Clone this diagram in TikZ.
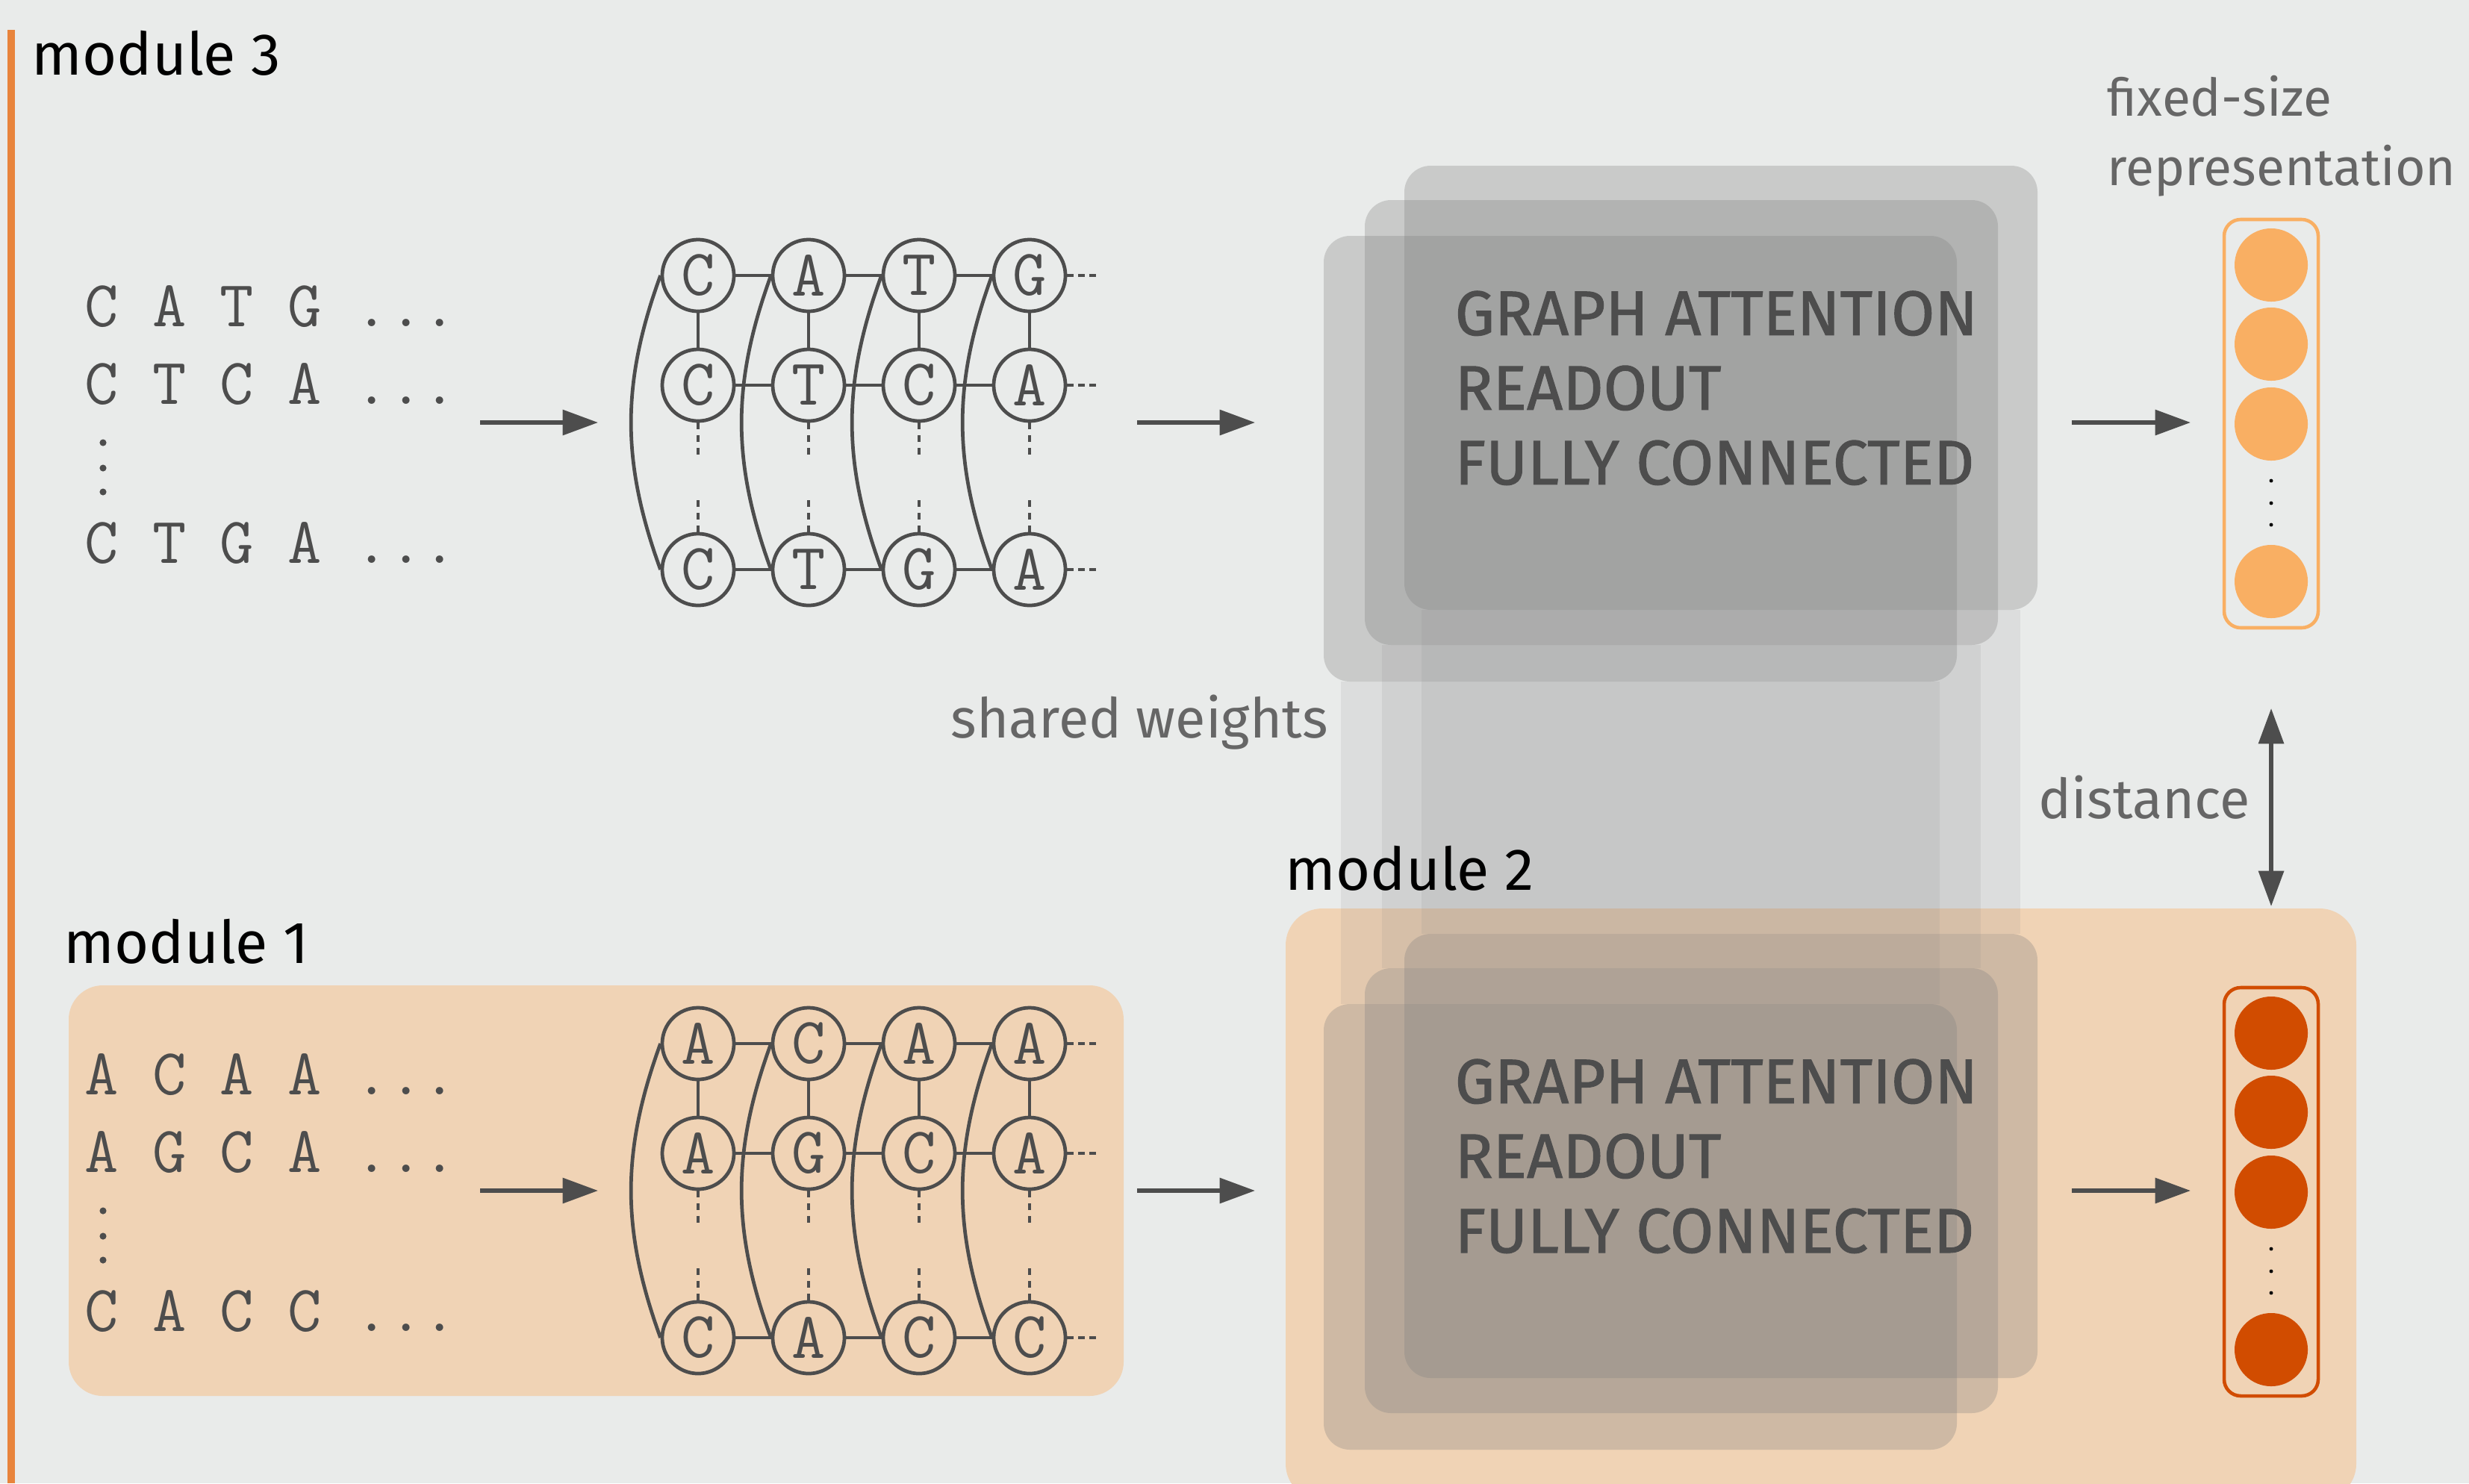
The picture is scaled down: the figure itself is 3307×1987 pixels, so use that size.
\documentclass[tikz,border=0pt]{standalone}
\usepackage{fontspec}
\usepackage{tikz}
\usetikzlibrary{arrows.meta}
\newfontfamily\lightsans{Fira Sans}
\newfontfamily\medsans{Fira Sans}[FakeBold=1.2]
\definecolor{paper}{HTML}{E9EBEA}
\definecolor{ink}{HTML}{4D4D4D}
\definecolor{bar}{HTML}{E8843C}
\definecolor{peach}{HTML}{F0D3B5}
\definecolor{labelgrey}{HTML}{666666}
\definecolor{vlight}{HTML}{F9AF63}
\definecolor{vdark}{HTML}{D14C00}
\tikzset{seq/.style={font=\ttfamily\fontsize{25}{30}\selectfont, text=ink,
   inner sep=0pt, anchor=base west},
 nuc/.style={circle, draw=ink, line width=1.35pt, minimum size=0.96cm,
   inner sep=0pt, font=\ttfamily\fontsize{25}{30}\selectfont, text=ink},
 link/.style={draw=ink, line width=1.35pt},
 gap/.style={link, dash pattern=on 2.5pt off 2.3pt},
 trail/.style={link, dash pattern=on 2.5pt off 1.7pt},
 flow/.style={draw=ink, line width=1.5pt, -{Triangle[length=13.5pt,width=9.5pt]}},
 gnnbox/.style={fill=gray, fill opacity=0.3, rounded corners=10pt},
 sharestrip/.style={fill=gray, fill opacity=0.12},
 tag/.style={font=\lightsans\fontsize{22.5}{27}\selectfont, text=black,
   inner sep=0pt, anchor=base west},
 note/.style={font=\lightsans\fontsize{21}{26.5}\selectfont, text=labelgrey,
   inner sep=0pt, anchor=base west, align=left},
 gnn/.style={font=\medsans\fontsize{24}{28.45}\selectfont, text=ink,
   inner sep=0pt, anchor=north west, align=left},
 cell/.style={circle, minimum size=0.98cm, inner sep=0pt},
 vecbox/.style={rounded corners=6.3pt, line width=1.3pt},
 }
% graph of one sequence set: prefix, rows 1, 2 and last
\newcommand{\seqgraph}[4]{%
  \foreach \l [count=\c] in {#2}
    \node[nuc] (#1a\c) at ({935+148*(\c-1)},-369) {\l};
  \foreach \l [count=\c] in {#3}
    \node[nuc] (#1b\c) at ({935+148*(\c-1)},-516) {\l};
  \foreach \l [count=\c] in {#4}
    \node[nuc] (#1c\c) at ({935+148*(\c-1)},-763) {\l};
  \foreach \c/\n in {1/2,2/3,3/4} {
    \draw[link] (#1a\c) -- (#1a\n);
    \draw[link] (#1b\c) -- (#1b\n);
    \draw[link] (#1c\c) -- (#1c\n);
  }
  \foreach \c in {1,...,4} {
    \draw[link] (#1a\c) -- (#1b\c);
    \draw[gap] (#1b\c.south) -- ++(0,-44);
    \draw[gap] (#1c\c.north) -- ++(0,44);
    \draw[link] (#1a\c.west) to[bend right=20] (#1c\c.west);
  }
  \foreach \r in {a,b,c}
    \draw[trail] (#1\r4.east) -- ++(40,0);
}

\begin{document}
\begin{tikzpicture}[x=0.01cm, y=0.01cm]
        \clip (0,0) rectangle (3307,-1987);
        \fill[paper] (0,0) rectangle (3307,-1987);
        \fill[bar] (10,-40) rectangle (20,-1987);

        % module backgrounds
        \fill[peach, rounded corners=13pt] (92,-1320) rectangle (1505,-1870);
        \fill[peach, rounded corners=14pt] (1722,-1217) rectangle (3156,-2010);

        % shared weights
        \fill[sharestrip] (1904,-817) rectangle (2706,-1251);
        \fill[sharestrip] (1851,-864) rectangle (2653,-1297);
        \fill[sharestrip] (1796,-913) rectangle (2598,-1345);
        \foreach \dy in {0,-1029} {
          \fill[gnnbox] (1881,{-222+\dy}) rectangle (2729,{-817+\dy});
          \fill[gnnbox] (1828,{-268+\dy}) rectangle (2676,{-864+\dy});
          \fill[gnnbox] (1773,{-316+\dy}) rectangle (2621,{-913+\dy});
        }
        \node[gnn] (gnn3) at (1948,-389) {GRAPH ATTENTION\\READOUT\\FULLY CONNECTED};
        \node[gnn] (gnn2) at (1948,-1418) {GRAPH ATTENTION\\READOUT\\FULLY CONNECTED};

        \node[tag] (mod3) at (42,-100) {module 3};
        \node[tag] (mod1) at (85,-1290) {module 1};
        \node[tag] (mod2) at (1721,-1192) {module 2};
        \node[note] (shared) at (1273,-988) {shared weights};
        \node[note] (dist) at (2730,-1096) {distance};
        \node[note, anchor=north west, font=\lightsans\fontsize{19.8}{26.5}\selectfont]
          (fixed) at (2822,-100) {fixed-size\\representation};

        % module 3
        \node[seq] (s3a) at (113,-437) {C A T G ...};
        \node[seq] (s3b) at (113,-541) {C T C A ...};
        \node[seq] (s3c) at (113,-754) {C T G A ...};
        \foreach \y in {-593,-627,-659} \fill[ink] (138,\y) circle (1.3pt);
        \seqgraph{g3}{C,A,T,G}{C,T,C,A}{C,T,G,A}
        \coordinate (m3a) at (643,-566);
        \coordinate (m3b) at (801,-566);
        \coordinate (m3c) at (1523,-566);
        \coordinate (m3d) at (1681,-566);
        \coordinate (m3e) at (2775,-566);
        \coordinate (m3f) at (2934,-566);
        \draw[flow] (m3a) -- (m3b);
        \draw[flow] (m3c) -- (m3d);
        \draw[flow] (m3e) -- (m3f);
        \draw[vecbox, draw=vlight] (2979,-294) rectangle (3105,-841);
        \foreach \y [count=\i] in {-355,-461,-568,-779}
          \node[cell, fill=vlight] (u\i) at (3042,\y) {};
        \foreach \y in {-644,-674,-703} \fill (3042,\y) circle (0.7pt);

        % distance
        \coordinate (dtop) at (3042,-949);
        \coordinate (dbot) at (3042,-1214);
        \draw[flow, {Triangle[length=13.5pt,width=9.5pt]}-{Triangle[length=13.5pt,width=9.5pt]}] (dtop) -- (dbot);

        % module 1 and 2
        \begin{scope}[shift={(0,-1029)}]
          \node[seq] (s1a) at (113,-437) {A C A A ...};
          \node[seq] (s1b) at (113,-541) {A G C A ...};
          \node[seq] (s1c) at (113,-754) {C A C C ...};
          \foreach \y in {-593,-627,-659} \fill[ink] (138,\y) circle (1.3pt);
          \seqgraph{g1}{A,C,A,A}{A,G,C,A}{C,A,C,C}
          \coordinate (m1a) at (643,-566);
          \coordinate (m1b) at (801,-566);
          \coordinate (m1c) at (1523,-566);
          \coordinate (m1d) at (1681,-566);
          \coordinate (m1e) at (2775,-566);
          \coordinate (m1f) at (2934,-566);
          \draw[flow] (m1a) -- (m1b);
          \draw[flow] (m1c) -- (m1d);
          \draw[flow] (m1e) -- (m1f);
          \draw[vecbox, draw=vdark] (2979,-294) rectangle (3105,-841);
          \foreach \y [count=\i] in {-355,-461,-568,-779}
            \node[cell, fill=vdark] (w\i) at (3042,\y) {};
          \foreach \y in {-644,-674,-703} \fill (3042,\y) circle (0.7pt);
        \end{scope}
    \end{tikzpicture}
\end{document}
